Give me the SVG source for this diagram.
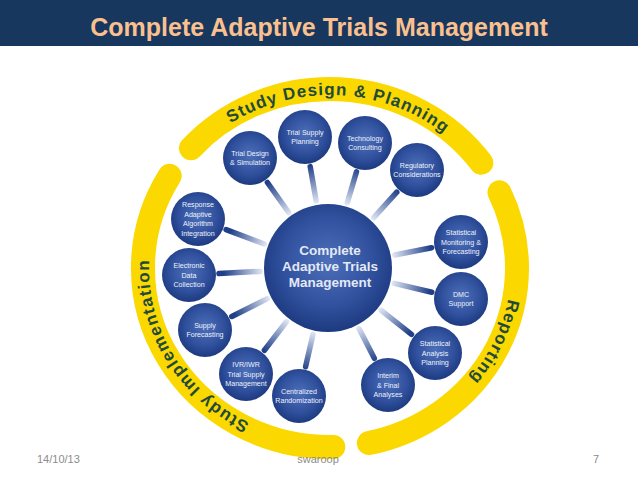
<svg xmlns="http://www.w3.org/2000/svg" width="638" height="479" viewBox="0 0 638 479">
<defs>
<style>
.title{font-family:"Liberation Sans",Arial,sans-serif;font-weight:bold;font-size:25px;fill:#fac08f}
.ring{fill:none;stroke:#fad800;stroke-width:24;stroke-linecap:round}
.rt{font-family:"Liberation Sans",Arial,sans-serif;font-weight:bold;font-size:17px;fill:#1f4a3c;letter-spacing:1.1px}
.node circle{fill:url(#ball)}
.node text{font-family:"Liberation Sans",Arial,sans-serif;font-size:7.1px;fill:#eef2fa;text-anchor:middle}
.hub text{font-family:"Liberation Sans",Arial,sans-serif;font-size:13.5px;font-weight:bold;fill:#e3e9f5;text-anchor:middle}
.spoke{stroke:url(#spk);stroke-width:5.5;stroke-linecap:round;fill:none}
.foot{font-family:"Liberation Sans",Arial,sans-serif;font-size:11px;fill:#8c8c8c}
</style>
<radialGradient id="ball" cx="50%" cy="45%" r="55%">
<stop offset="0" stop-color="#4d6fb9"/>
<stop offset="0.65" stop-color="#30509d"/>
<stop offset="1" stop-color="#1d3a80"/>
</radialGradient>
<radialGradient id="spk" gradientUnits="userSpaceOnUse" cx="328" cy="268" r="110">
<stop offset="0.6" stop-color="#dfe6f4"/>
<stop offset="0.95" stop-color="#1f3f88"/>
</radialGradient>
<path id="tpTop" d="M195.5,152.2 A181,173 0 0 1 476.4,166.3"/>
<path id="tpRight" d="M511,268 A181,173 0 0 1 446.3,400.5"/>
<path id="tpLeft" d="M298.6,438.4 A181,173 0 0 1 159.9,208.8"/>
</defs>

<rect x="0" y="0" width="638" height="46" fill="#17375e"/>
<text class="title" x="319" y="36" text-anchor="middle">Complete Adaptive Trials Management</text>

<g id="band-design">
<path class="ring" d="M191.0,148.2 A187,179 0 0 1 481.3,162.8"/>
<text class="rt"><textPath href="#tpTop" startOffset="50%" text-anchor="middle">Study Design &amp; Planning</textPath></text>
</g>
<g id="band-reporting">
<path class="ring" d="M499.5,192.4 A187,179 0 0 1 368.9,443.1"/>
<text class="rt"><textPath href="#tpRight" startOffset="50%" text-anchor="middle">Reporting</textPath></text>
</g>
<g id="band-implementation">
<path class="ring" d="M333.3,447.0 A187,179 0 0 1 169.7,175.8"/>
<text class="rt" style="letter-spacing:1.3px"><textPath href="#tpLeft" startOffset="50%" text-anchor="middle">Study Implementation</textPath></text>
</g>

<g id="connectors">
<line class="spoke" x1="267.4" y1="182.5" x2="288.7" y2="212.5"/>
<line class="spoke" x1="310.2" y1="166.6" x2="316.2" y2="201.0"/>
<line class="spoke" x1="356.5" y1="171.8" x2="347.3" y2="202.8"/>
<line class="spoke" x1="396.8" y1="192.2" x2="373.7" y2="217.7"/>
<line class="spoke" x1="431.6" y1="247.8" x2="394.7" y2="255.0"/>
<line class="spoke" x1="431.8" y1="292.2" x2="394.2" y2="283.4"/>
<line class="spoke" x1="411.5" y1="334.3" x2="381.2" y2="310.3"/>
<line class="spoke" x1="374.3" y1="358.3" x2="359.0" y2="328.5"/>
<line class="spoke" x1="305.6" y1="366.7" x2="313.0" y2="334.3"/>
<line class="spoke" x1="264.4" y1="350.3" x2="286.4" y2="321.8"/>
<line class="spoke" x1="231.8" y1="316.5" x2="267.3" y2="298.6"/>
<line class="spoke" x1="219.0" y1="273.5" x2="260.1" y2="271.4"/>
<line class="spoke" x1="226.1" y1="229.6" x2="264.4" y2="244.0"/>
</g>

<g id="hub" class="hub">
<circle cx="328" cy="268" r="64" fill="url(#ball)"/>
<text x="330" y="255">Complete</text>
<text x="330" y="271">Adaptive Trials</text>
<text x="330" y="287">Management</text>
</g>

<g id="n-trial-design" class="node"><circle cx="250" cy="158" r="27"/><text x="250" y="155.8">Trial Design</text><text x="250" y="165.3">&amp; Simulation</text></g>
<g id="n-trial-supply" class="node"><circle cx="305" cy="137" r="27"/><text x="305" y="134.8">Trial Supply</text><text x="305" y="144.3">Planning</text></g>
<g id="n-technology" class="node"><circle cx="365" cy="143" r="27"/><text x="365" y="140.8">Technology</text><text x="365" y="150.3">Consulting</text></g>
<g id="n-regulatory" class="node"><circle cx="417" cy="170" r="27"/><text x="417" y="167.8">Regulatory</text><text x="417" y="177.3">Considerations</text></g>
<g id="n-stat-monitoring" class="node"><circle cx="461" cy="242" r="27"/><text x="461" y="235.1">Statistical</text><text x="461" y="244.6">Monitoring &amp;</text><text x="461" y="254.1">Forecasting</text></g>
<g id="n-dmc" class="node"><circle cx="461" cy="299" r="27"/><text x="461" y="296.8">DMC</text><text x="461" y="306.3">Support</text></g>
<g id="n-stat-analysis" class="node"><circle cx="435" cy="353" r="27"/><text x="435" y="346.1">Statistical</text><text x="435" y="355.6">Analysis</text><text x="435" y="365.1">Planning</text></g>
<g id="n-interim" class="node"><circle cx="388" cy="385" r="27"/><text x="388" y="378.1">Interim</text><text x="388" y="387.6">&amp; Final</text><text x="388" y="397.1">Analyses</text></g>
<g id="n-randomization" class="node"><circle cx="299" cy="396" r="27"/><text x="299" y="393.8">Centralized</text><text x="299" y="403.3">Randomization</text></g>
<g id="n-ivr" class="node"><circle cx="246" cy="374" r="27"/><text x="246" y="367.1">IVR/IWR</text><text x="246" y="376.6">Trial Supply</text><text x="246" y="386.1">Management</text></g>
<g id="n-supply-forecasting" class="node"><circle cx="205" cy="330" r="27"/><text x="205" y="327.8">Supply</text><text x="205" y="337.3">Forecasting</text></g>
<g id="n-edc" class="node"><circle cx="189" cy="275" r="27"/><text x="189" y="268.1">Electronic</text><text x="189" y="277.6">Data</text><text x="189" y="287.1">Collection</text></g>
<g id="n-response" class="node"><circle cx="198" cy="219" r="27"/><text x="198" y="207.3">Response</text><text x="198" y="216.8">Adaptive</text><text x="198" y="226.3">Algorithm</text><text x="198" y="235.8">Integration</text></g>

<text class="foot" x="37" y="463">14/10/13</text>
<text class="foot" x="318" y="463" text-anchor="middle">swaroop</text>
<text class="foot" x="593" y="463">7</text>
</svg>
